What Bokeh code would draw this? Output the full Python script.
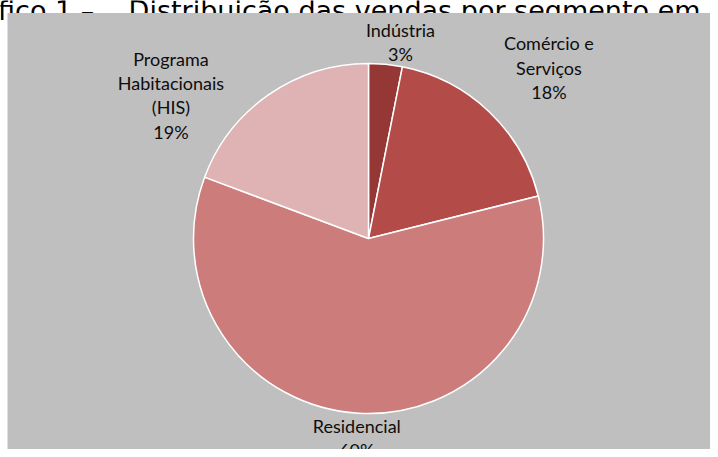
import numpy as np
from bokeh.plotting import figure
from bokeh.models import Range1d, ColumnDataSource
from bokeh.core.properties import value
from bokeh.embed import file_html
from bokeh.resources import INLINE

# ---- data ----
categories = ["Indústria", "Comércio e Serviços", "Residencial", "Programa Habitacionais (HIS)"]
label_lines = ["Indústria", "Comércio e\nServiços", "Residencial", "Programa\nHabitacionais\n(HIS)"]
shares = [3.1, 18.0, 59.6, 19.3]
colors = ["#953735", "#b34b48", "#cb7c7b", "#dfb3b3"]
title_text = "Gráfico 1 –\u00a0\u00a0\u00a0 Distribuição das vendas por segmento em 2012"

# ---- layout (screen px, y measured from top) ----
W, H = 710, 449
CX, CY_TOP = 368, 238
R = 175
R_LAB = 200
lab_dx = [12.5, 42.6, -0.4, -83.6]
lab_dy = [2.7, -26.0, 0.0, 21.1]

CY = H - CY_TOP

frac = np.array(shares) / sum(shares)
cum = np.concatenate([[0.0], np.cumsum(frac)])
start = np.pi / 2 - 2 * np.pi * cum[:-1]
end = np.pi / 2 - 2 * np.pi * cum[1:]
mid = np.pi * (cum[:-1] + cum[1:])  # angle from top, clockwise

pct = [f"{int(round(v))}%" for v in frac * 100]
texts = [f"{n}\n{p}" for n, p in zip(label_lines, pct)]
lx = CX + R_LAB * np.sin(mid) + np.array(lab_dx)
ly = CY + R_LAB * np.cos(mid) - np.array(lab_dy)

p = figure(width=W, height=H, x_range=Range1d(0, W), y_range=Range1d(0, H),
           output_backend="svg", toolbar_location=None, min_border=0,
           x_axis_type=None, y_axis_type=None)
p.grid.visible = False
p.outline_line_color = None
p.background_fill_color = "white"
p.border_fill_color = "white"

# title, clipped at the top as in the source
p.text(x=[-51], y=[H - 10], text=[title_text], text_font=value("DejaVu Sans"),
       text_font_size="27px", text_align="left", text_baseline="alphabetic",
       text_color="black")

# gray chart area
p.quad(left=[7], right=[W], bottom=[0], top=[H - 12.5], fill_color="#bfbfbf", line_color=None)

src = ColumnDataSource(dict(start=start, end=end, color=colors, cat=categories))
p.wedge(x=CX, y=CY, radius=R, radius_units="screen", start_angle="start", end_angle="end",
        direction="clock", fill_color="color", line_color="white", line_width=1.5, source=src)

p.text(x=lx, y=ly, text=texts, text_font=value("Lato"), text_font_size="18px",
       text_align="center", text_baseline="middle", text_line_height=1.11,
       text_color="#0d0d0d")

open("out.html", "w").write(file_html(p, INLINE))
